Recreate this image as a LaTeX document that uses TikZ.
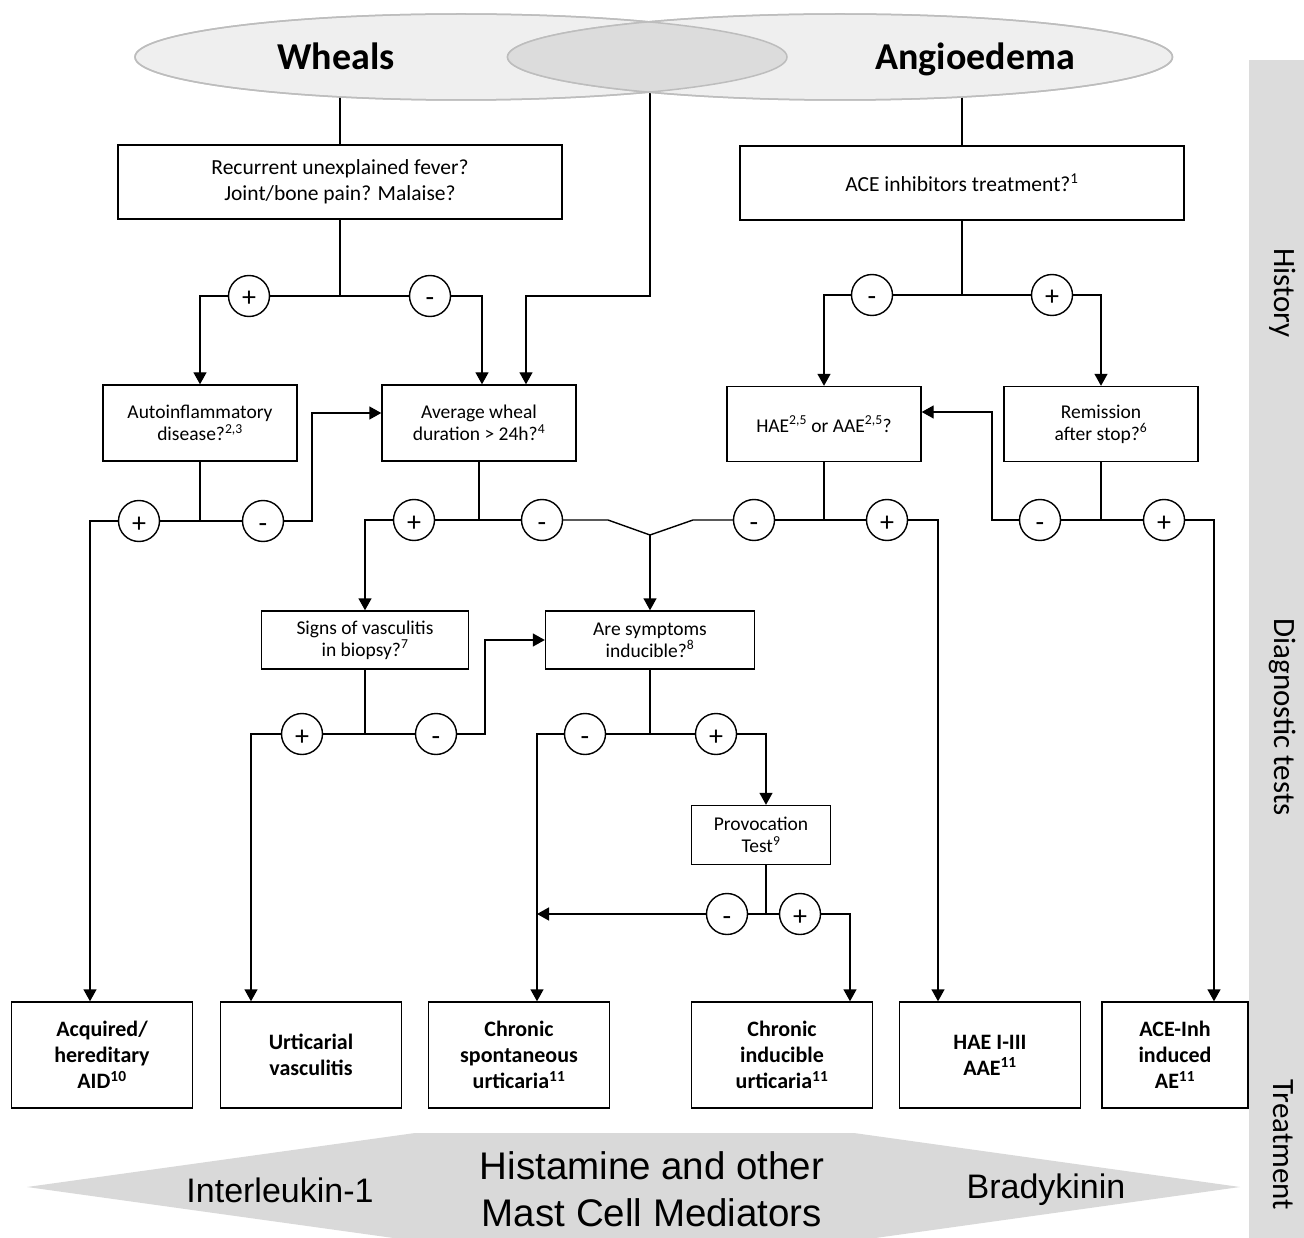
\documentclass[tikz,border=0pt]{standalone}
\usepackage{fontspec}
\setmainfont{Carlito}
\newfontfamily\arialfont{Liberation Sans}
\usetikzlibrary{arrows.meta,calc,shapes.geometric}
\pgfdeclarelayer{bg}
\pgfsetlayers{bg,main}
\definecolor{ellfill}{HTML}{EFEFEF}
\definecolor{ellline}{HTML}{BDBDBD}
\definecolor{lensfill}{HTML}{DCDCDC}
\definecolor{bargray}{HTML}{DCDCDC}
\definecolor{shapegray}{HTML}{D9D9D9}
\begin{document}
\begin{tikzpicture}[x=1pt,y=-1pt,
  box/.style={draw, line width=1.4pt, fill=white, inner sep=0pt, align=center},
  qbox/.style={box, font=\fontsize{19.5}{22}\selectfont},
  bigq/.style={box, font=\fontsize{21.5}{26}\selectfont, minimum width=444pt, minimum height=74pt},
  dbox/.style={box, font=\bfseries\fontsize{22}{26}\selectfont, minimum width=181pt, minimum height=106pt},
  sign/.style={circle, draw, line width=1.4pt, fill=white, minimum size=41pt, inner sep=0pt, text height=22pt, text depth=0pt, font=\fontsize{28}{28}\selectfont},
  lnk/.style={line width=1.4pt},
  arr/.style={lnk, -{Triangle[width=13pt,length=12pt]}},
  ell/.style={ellipse, draw=ellline, fill=ellfill, line width=1.5pt, inner sep=0pt},
  title/.style={font=\bfseries\fontsize{38}{38}\selectfont, anchor=base},
  side/.style={rotate=-90, font=\fontsize{31}{31}\selectfont},
  med/.style={font=\arialfont\fontsize{34}{40}\selectfont, align=center}
]
\useasboundingbox (0,0) rectangle (1304,1238);

% side bar and labels
\fill[bargray] (1249,60) rectangle (1304,1238);
\node[side] (hist) at (1283,293) {History};
\node[side] (diag) at (1283,717) {Diagnostic tests};
\node[side] (treat) at (1283,1145) {Treatment};

% bottom mediator shape
\fill[shapegray] (27,1187) -- (415,1133) -- (854,1133) -- (1240,1187) -- (854,1241) -- (415,1241) -- cycle;
\node[med] (il) at (280,1190) {Interleukin-1};
\node[med, font=\arialfont\fontsize{38.5}{47}\selectfont] (hm) at (652,1189) {Histamine and other\\Mast Cell Mediators};
\node[med] (brady) at (1046,1190) {Bradykinin};

% ellipses
\node[ell, minimum width=652pt, minimum height=86pt] (wel) at (461,57) {};
\node[ell, minimum width=665pt, minimum height=86pt] (ael) at (840,57) {};
\begin{scope}
  \clip (461,57) ellipse [x radius=326pt, y radius=43pt];
  \fill[lensfill] (840,57) ellipse [x radius=332.5pt, y radius=43pt];
\end{scope}
\draw[ellline, line width=1.5pt] (461,57) ellipse [x radius=326pt, y radius=43pt];
\draw[ellline, line width=1.5pt] (840,57) ellipse [x radius=332.5pt, y radius=43pt];
\coordinate (lens) at (650,57);
\node[title] (wt) at (336,70) {Wheals};
\node[title] (at) at (975,70) {Angioedema};

% question boxes
\node[bigq] (q1) at (340,182) {Recurrent unexplained fever?\\Joint/bone pain? Malaise?};
\node[bigq] (q2) at (962,183) {ACE inhibitors treatment?\textsuperscript{1}};
\node[qbox, minimum width=194pt, minimum height=76pt] (q3) at (200,423) {Autoinflammatory\\disease?\textsuperscript{2,3}};
\node[qbox, minimum width=194pt, minimum height=76pt] (q4) at (479,423) {Average wheal\\duration > 24h?\textsuperscript{4}};
\node[qbox, minimum width=194pt, minimum height=75pt] (q5) at (824,424) {HAE\textsuperscript{2,5} or AAE\textsuperscript{2,5}?};
\node[qbox, minimum width=194pt, minimum height=75pt] (q6) at (1101,424) {Remission\\after stop?\textsuperscript{6}};
\node[qbox, minimum width=207pt, minimum height=58pt] (q7) at (365,640) {Signs of vasculitis\\in biopsy?\textsuperscript{7}};
\node[qbox, minimum width=209pt, minimum height=58pt] (q8) at (650,640) {Are symptoms\\inducible?\textsuperscript{8}};
\node[qbox, minimum width=139pt, minimum height=59pt] (q9) at (761,835) {Provocation\\Test\textsuperscript{9}};

% diagnosis boxes
\node[dbox] (d1) at (102,1055) {Acquired/\\hereditary\\AID\textsuperscript{10}};
\node[dbox] (d2) at (311,1055) {Urticarial\\vasculitis};
\node[dbox] (d3) at (519,1055) {Chronic\\spontaneous\\urticaria\textsuperscript{11}};
\node[dbox] (d4) at (782,1055) {Chronic\\inducible\\urticaria\textsuperscript{11}};
\node[dbox] (d5) at (990,1055) {HAE I-III\\AAE\textsuperscript{11}};
\node[dbox, minimum width=146pt] (d6) at (1175,1055) {ACE-Inh\\induced\\AE\textsuperscript{11}};

% sign circles
\node[sign] (c1p) at (249,296) {+};
\node[sign] (c1m) at (430,296) {-};
\node[sign] (c2m) at (872,295) {-};
\node[sign] (c2p) at (1052,295) {+};
\node[sign] (c3p) at (139,521) {+};
\node[sign] (c3m) at (263,521) {-};
\node[sign] (c4p) at (414,520) {+};
\node[sign] (c4m) at (542,520) {-};
\node[sign] (c5m) at (754,520) {-};
\node[sign] (c5p) at (887,520) {+};
\node[sign] (c6m) at (1040,520) {-};
\node[sign] (c6p) at (1164,520) {+};
\node[sign] (c7p) at (302,734) {+};
\node[sign] (c7m) at (436,734) {-};
\node[sign] (c8m) at (585,734) {-};
\node[sign] (c8p) at (716,734) {+};
\node[sign] (c9m) at (727,914) {-};
\node[sign] (c9p) at (800,914) {+};

\coordinate (ym) at (650,535);
\coordinate (d3in) at ([xshift=18pt]d3.north);

\begin{pgfonlayer}{bg}
\draw[lnk] (q1.north) -- (q1.north |- wel.center);
\draw[lnk] (q2.north) -- (q2.north |- ael.center);
\draw[arr] (lens) -- (lens |- c1m) -| ([xshift=47pt]q4.north);

\draw[lnk] (q1.south) -- (q1.south |- c1p);
\draw[lnk] (c1p) -- (c1m);
\draw[arr] (c1p) -| (q3.north);
\draw[arr] (c1m) -| ([xshift=3pt]q4.north);

\draw[lnk] (q2.south) -- (q2.south |- c2m);
\draw[lnk] (c2m) -- (c2p);
\draw[arr] (c2m) -| (q5.north);
\draw[arr] (c2p) -| (q6.north);

\draw[lnk] (q3.south) -- (q3.south |- c3p);
\draw[lnk] (c3p) -- (c3m);
\draw[arr] (c3p) -| ([xshift=-12pt]d1.north);
\draw[arr] (c3m) -- ++(49,0) |- ($(q4.west)+(0,-10)$);

\draw[lnk] (q4.south) -- (q4.south |- c4p);
\draw[lnk] (c4p) -- (c4m);
\draw[arr] (c4p) -| (q7.north);
\draw[lnk] (c4m) -- ++(66,0) -- (ym);
\draw[lnk] (c5m) -- ++(-61,0) -- (ym);
\draw[arr] (ym) -- (q8.north);

\draw[lnk] (q5.south) -- (q5.south |- c5m);
\draw[lnk] (c5m) -- (c5p);
\draw[arr] (c5p) -| ([xshift=-52pt]d5.north);

\draw[lnk] (q6.south) -- (q6.south |- c6m);
\draw[lnk] (c6m) -- (c6p);
\draw[arr] (c6m) -- ++(-48,0) |- ($(q5.east)+(0,-12)$);
\draw[arr] (c6p) -| ([xshift=39pt]d6.north);

\draw[lnk] (q7.south) -- (q7.south |- c7p);
\draw[lnk] (c7p) -- (c7m);
\draw[arr] (c7p) -| ([xshift=-60pt]d2.north);
\draw[arr] (c7m) -- ++(49,0) |- (q8.west);

\draw[lnk] (q8.south) -- (q8.south |- c8m);
\draw[lnk] (c8m) -- (c8p);
\draw[arr] (c8m) -| (d3in);
\draw[arr] (c8p) -| ([xshift=5pt]q9.north);

\draw[lnk] ([xshift=5pt]q9.south) -- ([xshift=5pt]q9.south |- c9m);
\draw[lnk] (c9m) -- (c9p);
\draw[arr] (c9m) -- (c9m -| d3in);
\draw[arr] (c9p) -| ([xshift=68pt]d4.north);
\end{pgfonlayer}
\end{tikzpicture}
\end{document}
